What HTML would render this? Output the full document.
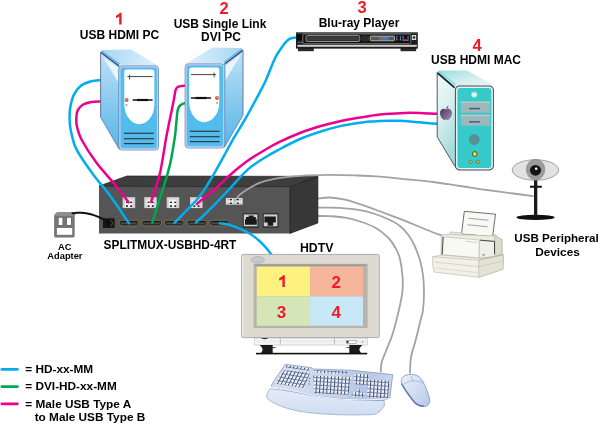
<!DOCTYPE html>
<html><head><meta charset="utf-8">
<style>
html,body{margin:0;padding:0;background:#fff;width:600px;height:424px;overflow:hidden}
svg{display:block;will-change:transform}
text{font-family:"Liberation Sans",sans-serif;font-weight:bold}
.lbl{font-size:12px;fill:#000}
.num{font-size:16.5px;fill:#ec1c2a}
.sm{font-size:9.3px;fill:#000}
.leg{font-size:11.8px;fill:#000}
</style></head><body>
<svg width="600" height="424" viewBox="0 0 600 424">
<defs>
<linearGradient id="pcSide" x1="0" y1="0" x2="0" y2="1">
<stop offset="0" stop-color="#bfe3f7"/><stop offset="0.45" stop-color="#90cdef"/><stop offset="1" stop-color="#55b6e8"/>
</linearGradient>
<linearGradient id="pcTop" x1="0" y1="0" x2="1" y2="0">
<stop offset="0" stop-color="#a4d6f2"/><stop offset="1" stop-color="#e2f2fb"/>
</linearGradient>
<linearGradient id="macSide" x1="0" y1="0" x2="0.3" y2="1">
<stop offset="0" stop-color="#f4fbfb"/><stop offset="0.45" stop-color="#dcf0f0"/><stop offset="1" stop-color="#a6dada"/>
</linearGradient>
<linearGradient id="macTop" x1="0" y1="0" x2="1" y2="1">
<stop offset="0" stop-color="#9adede"/><stop offset="0.6" stop-color="#d8eeee"/><stop offset="1" stop-color="#eef6f6"/>
</linearGradient>
<linearGradient id="appleG" x1="0" y1="0" x2="1" y2="1">
<stop offset="0" stop-color="#3e2a52"/><stop offset="1" stop-color="#a888b0"/>
</linearGradient>
<linearGradient id="kbd" x1="0" y1="0" x2="1" y2="0">
<stop offset="0" stop-color="#d6e0f2"/><stop offset="0.55" stop-color="#c6d3ec"/><stop offset="0.75" stop-color="#b4c4e2"/><stop offset="1" stop-color="#c8d5ee"/>
</linearGradient>
<linearGradient id="wrist" x1="0" y1="0" x2="0" y2="1">
<stop offset="0" stop-color="#e6edf9"/><stop offset="1" stop-color="#cfdcf2"/>
</linearGradient>
<pattern id="keys" patternUnits="userSpaceOnUse" width="3.6" height="3.7" patternTransform="rotate(4)">
<rect width="3.6" height="3.7" fill="#a4b2d2"/>
<rect x="0" y="0.3" width="1.1" height="3.1" fill="#2e3a60"/>
<rect x="0.5" y="2.6" width="3.1" height="1.1" fill="#7080a8"/>
<rect x="1.1" y="0" width="2.5" height="2.6" fill="#f4f7fd"/>
</pattern>
<pattern id="keysL" patternUnits="userSpaceOnUse" width="3.6" height="3.7" patternTransform="rotate(9) skewX(-18)">
<rect width="3.6" height="3.7" fill="#a4b2d2"/>
<rect x="0" y="0.3" width="1.1" height="3.1" fill="#2e3a60"/>
<rect x="0.5" y="2.6" width="3.1" height="1.1" fill="#7080a8"/>
<rect x="1.1" y="0" width="2.5" height="2.6" fill="#f4f7fd"/>
</pattern>
<linearGradient id="mouseG" x1="0" y1="0" x2="1" y2="1">
<stop offset="0" stop-color="#eaf1fb"/><stop offset="1" stop-color="#b6c9ea"/>
</linearGradient>
<g id="pc">
  <!-- side -->
  <polygon points="100.7,51.5 119.6,65.7 119.6,150 100.7,117.6" fill="url(#pcSide)"/>
  <polygon points="103,57 118,67.5 118,82" fill="#f4faff" opacity="0.85"/>
  <line x1="100.6" y1="52" x2="100.6" y2="117.2" stroke="#5a6a9a" stroke-width="0.9"/>
  <line x1="100.7" y1="117.4" x2="119" y2="149" stroke="#5a6a9a" stroke-width="0.7"/>
  <!-- top -->
  <polygon points="100.7,51.5 102.5,50 131,49.5 158.5,65.7 119.6,65.7" fill="url(#pcTop)"/>
  <line x1="101.5" y1="51" x2="119.6" y2="64.2" stroke="#58b2e6" stroke-width="1.2"/>
  <line x1="101" y1="52.5" x2="119.3" y2="66.3" stroke="#3a3a72" stroke-width="1.3"/>
  <line x1="119" y1="65.2" x2="158" y2="65.2" stroke="#e4e8fa" stroke-width="1"/>
  <!-- front -->
  <rect x="118.9" y="65.9" width="39.6" height="84.1" rx="3.5" fill="#52bdec" stroke="#5a6aa0" stroke-width="0.7"/>
  <rect x="119.9" y="66.9" width="37.6" height="82.1" rx="2.8" fill="none" stroke="#c4cdf0" stroke-width="1.3"/>
  <path d="M124.3,71.8 Q124.3,69.6 126.5,69.6 H152.2 Q154.4,69.6 154.4,71.8 V104 C154.4,116 147,124.2 139.35,124.2 C131.7,124.2 124.3,116 124.3,104 Z" fill="#fff"/>
  <line x1="127.4" y1="76.6" x2="152.6" y2="76.6" stroke="#444" stroke-width="1"/>
  <line x1="129.5" y1="74.5" x2="129.5" y2="79.5" stroke="#444" stroke-width="0.9"/>
  <line x1="132.6" y1="100" x2="152.6" y2="100" stroke="#222" stroke-width="1.6"/>
  <line x1="137" y1="100" x2="148" y2="100" stroke="#111" stroke-width="2.2"/>
  <circle cx="126.6" cy="100" r="2" fill="#d65a50"/>
  <circle cx="126.2" cy="99.4" r="0.7" fill="#f0b0a8"/>
  <circle cx="126.5" cy="105" r="0.9" fill="#6b6"/>
  <g stroke="#333a48" stroke-width="1.2">
    <line x1="124" y1="133.3" x2="153.8" y2="133.3"/>
    <line x1="124" y1="138.7" x2="153.8" y2="138.7"/>
    <line x1="124" y1="143.6" x2="153.8" y2="143.6"/>
  </g>
</g>
</defs>

<!-- ===== GRAY CABLES ===== -->
<g fill="none" stroke-linecap="round">
<g stroke="#a3a3a3" stroke-width="1.8">
    <path d="M317.0,198.8 C319.2,198.6 325.3,197.3 330.0,197.5 C334.7,197.7 340.0,198.6 345.0,199.7 C350.0,200.8 355.0,202.6 360.0,204.2 C365.0,205.8 370.0,207.7 375.0,209.5 C380.0,211.3 385.0,213.3 390.0,215.2 C395.0,217.1 400.0,218.8 405.0,220.8 C410.0,222.8 415.5,225.1 420.0,227.0 C424.5,228.9 428.3,230.6 432.0,232.0 C435.7,233.4 440.3,234.9 442.0,235.5"/>
    <path d="M317.0,207.6 C319.2,207.6 325.3,207.6 330.0,207.7 C334.7,207.8 340.0,207.9 345.0,208.3 C350.0,208.7 355.0,209.2 360.0,210.2 C365.0,211.1 370.0,212.4 375.0,214.0 C380.0,215.6 385.8,218.0 390.0,220.0 C394.2,222.0 397.0,223.6 400.0,226.0 C403.0,228.4 405.7,231.4 408.0,234.5 C410.3,237.6 412.1,240.4 414.0,244.5 C415.9,248.6 418.1,253.9 419.6,259.0 C421.1,264.1 422.3,269.4 423.0,275.0 C423.7,280.6 424.0,286.5 424.0,292.3 C424.0,298.1 423.5,305.6 423.0,310.0 C422.5,314.4 422.2,313.8 420.9,319.0 C419.6,324.2 416.9,335.2 415.3,341.5 C413.7,347.8 412.0,351.4 411.1,356.6 C410.2,361.8 410.2,370.1 410.0,372.8"/>
    <path d="M317.0,216.0 C319.2,216.0 325.3,215.9 330.0,216.2 C334.7,216.5 340.0,216.8 345.0,217.7 C350.0,218.6 355.0,219.9 360.0,221.5 C365.0,223.1 370.2,224.8 375.0,227.5 C379.8,230.2 385.0,234.4 388.5,238.0 C392.0,241.6 394.1,245.5 396.0,249.0 C397.9,252.5 398.9,254.3 400.0,259.0 C401.1,263.7 402.2,271.6 402.6,277.2 C403.0,282.8 402.9,286.8 402.3,292.3 C401.7,297.8 400.5,303.1 398.9,310.0 C397.3,316.9 394.8,327.2 392.6,334.0 C390.5,340.8 387.8,346.3 386.0,351.0 C384.2,355.7 382.6,358.9 381.7,362.3 C380.8,365.8 380.9,370.1 380.8,371.7"/>
  </g>
</g>
<!-- ===== KVM box ===== -->
<g>
  <polygon points="99,186 127,176 317.9,176.4 290,187" fill="#3e3e3e" stroke="#1e1e1e" stroke-width="0.7"/>
  <polygon points="290,187 317.9,176.4 317.9,223 290,233.4" fill="#373737" stroke="#1e1e1e" stroke-width="0.7"/>
  <rect x="99" y="186.5" width="191" height="47" fill="#555"/>
  <line x1="99" y1="186.6" x2="290" y2="186.6" stroke="#2a2a2a" stroke-width="0.8"/>
  <line x1="290" y1="187" x2="290" y2="233.4" stroke="#2a2a2a" stroke-width="0.8"/>
  <!-- usb ports -->
  <g id="usbp">
    <rect x="122.6" y="197.1" width="12.6" height="11" fill="#c6c6c6"/>
    <rect x="123.3" y="197.8" width="11.2" height="9.6" fill="#d6d6d6"/>
    <path d="M125,207.6 V201.3 Q125,199.6 126.8,199.6 H130.4 Q132.2,199.6 132.2,201.3 V207.6 Z" fill="#f2f2f2"/>
    <rect x="126" y="201.7" width="1.9" height="1.3" fill="#1a1a1a"/>
    <rect x="130.2" y="201.7" width="1.9" height="1.3" fill="#1a1a1a"/>
    <rect x="126" y="205.3" width="1.9" height="1.6" fill="#1a1a1a"/>
    <rect x="130.2" y="205.3" width="1.9" height="1.6" fill="#1a1a1a"/>
  </g>
  <use href="#usbp" x="21.6"/>
  <use href="#usbp" x="44.1"/>
  <use href="#usbp" x="67.4"/>
  <!-- hdmi ports -->
  <g id="hdmip">
    <path d="M120.2,220.3 H137.7 Q138.7,220.3 138.7,221.3 V223.8 L136.4,226 H121.5 L119.2,223.8 V221.3 Q119.2,220.3 120.2,220.3 Z" fill="#2e2e2e" stroke="#8a7a52" stroke-width="0.8"/>
    <rect x="121.3" y="222.4" width="15.3" height="1.3" fill="#5a5a5a"/>
    <rect x="121.3" y="221.2" width="15.3" height="1.1" fill="#161616"/>
  </g>
  <use href="#hdmip" x="22.8"/>
  <use href="#hdmip" x="45.2"/>
  <use href="#hdmip" x="68"/>
  <use href="#hdmip" x="90.5"/>
  <!-- power jack -->
  <rect x="103" y="218.3" width="11.6" height="9.7" fill="#161616"/>
  <circle cx="109.3" cy="223.1" r="3.4" fill="#0e0e0e"/>
  <path d="M110.2,220.2 A3,3 0 0 1 110.2,226" fill="none" stroke="#666" stroke-width="0.8"/>
  <!-- HH usb -->
  <rect x="225.9" y="198.1" width="16.7" height="6.5" fill="#e6e6e6"/>
  <rect x="229.9" y="199" width="2" height="1.3" fill="#111"/>
  <rect x="236.8" y="199" width="2" height="1.3" fill="#111"/>
  <rect x="229.9" y="202.6" width="2" height="1.3" fill="#111"/>
  <rect x="236.8" y="202.6" width="2" height="1.3" fill="#111"/>
  <rect x="227.5" y="199" width="1.5" height="1.3" fill="#aaa"/>
  <rect x="227.5" y="202.6" width="1.5" height="1.3" fill="#aaa"/>
  <rect x="233.2" y="199" width="2.4" height="1.3" fill="#aaa"/>
  <rect x="233.2" y="202.6" width="2.4" height="1.3" fill="#aaa"/>
  <rect x="239.7" y="199" width="1.5" height="1.3" fill="#aaa"/>
  <rect x="239.7" y="202.6" width="1.5" height="1.3" fill="#aaa"/>
  <!-- rj45 -->
  <rect x="242.8" y="213.3" width="15.7" height="14.4" fill="#2a2a2a"/>
  <rect x="243.8" y="214.4" width="13.6" height="11.9" fill="#d0d0d0"/>
  <path d="M245,224.7 V219.3 H246 V217 H248.7 V215.5 H253.6 V217 H255.8 V219.3 H256.8 V224.7 Z" fill="#1a1a1a"/>
  <rect x="262.8" y="213.3" width="15.7" height="14.4" fill="#2a2a2a"/>
  <rect x="263.8" y="214.4" width="13.6" height="11.9" fill="#d0d0d0"/>
  <path d="M264.4,216.5 H275.8 V222.5 H273.1 V225.8 H267.7 V222.5 H264.4 Z" fill="#1a1a1a"/>
</g>
<!-- ===== COLORED CABLES ===== -->
<g fill="none" stroke-linecap="round">
  <g stroke-width="2.5">
    <path d="M101.0,80.2 C99.4,80.4 94.5,80.4 91.2,81.3 C87.9,82.2 84.0,83.5 81.2,85.6 C78.4,87.7 76.0,90.8 74.2,94.1 C72.4,97.4 71.4,101.6 70.6,105.4 C69.8,109.2 69.6,112.7 69.6,116.7 C69.6,120.7 69.4,124.0 70.6,129.5 C71.8,134.9 72.8,142.0 76.5,149.4 C80.2,156.8 87.4,166.5 93.0,174.2 C98.6,181.9 104.0,187.4 110.0,195.6 C116.0,203.8 125.8,218.7 129.0,223.3" stroke="#00aeef"/>
    <path d="M101.0,101.4 C99.4,101.5 94.2,101.4 91.2,101.9 C88.2,102.5 85.0,103.3 82.7,104.7 C80.5,106.1 78.8,108.2 77.7,110.4 C76.6,112.7 76.4,115.5 76.3,118.2 C76.2,120.9 76.1,123.2 77.0,126.7 C77.9,130.2 78.3,133.5 81.5,139.5 C84.7,145.5 90.8,155.2 96.3,162.6 C101.8,170.0 109.1,177.4 114.5,184.0 C119.9,190.6 126.2,199.2 128.5,202.2" stroke="#ec008c"/>
    <path d="M185.0,85.7 C183.9,85.8 180.2,86.0 178.7,86.6 C177.2,87.2 176.6,87.4 175.8,89.4 C175.0,91.5 174.9,94.2 174.0,98.9 C173.1,103.6 171.5,111.4 170.2,117.7 C168.9,124.0 167.7,129.7 166.4,136.6 C165.1,143.5 163.8,152.6 162.6,159.2 C161.4,165.8 161.1,169.3 159.2,176.4 C157.3,183.5 152.4,197.7 151.1,201.9" stroke="#ec008c"/>
    <path d="M185.0,103.0 C184.2,103.4 181.2,104.3 180.0,105.5 C178.8,106.7 178.2,108.2 177.7,110.2 C177.2,112.2 177.3,113.3 176.8,117.7 C176.3,122.1 175.9,129.7 174.9,136.6 C173.9,143.5 172.4,152.6 171.1,159.2 C169.8,165.8 169.9,165.8 166.8,176.4 C163.7,187.0 154.7,214.9 152.3,222.6" stroke="#00a651"/>
    <path d="M297.5,37.4 C296.6,37.5 293.7,37.7 292.3,38.0 C290.9,38.3 290.0,38.7 288.9,39.4 C287.8,40.1 286.6,41.1 285.5,42.3 C284.4,43.5 283.8,44.6 282.3,46.7 C280.8,48.9 278.2,52.3 276.6,55.2 C275.0,58.1 274.3,59.9 272.4,64.2 C270.5,68.5 268.2,75.2 265.4,81.2 C262.6,87.2 259.0,93.7 255.7,100.0 C252.3,106.3 248.9,112.6 245.3,118.9 C241.7,125.2 237.6,131.4 234.0,137.7 C230.4,144.0 227.5,149.5 223.6,156.6 C219.7,163.7 214.6,173.1 210.4,180.0 C206.2,186.9 204.5,190.7 198.5,197.8 C192.5,204.9 178.5,218.6 174.5,222.8" stroke="#00aeef"/>
    <path d="M437.5,113.8 C436.2,113.8 432.9,113.7 430.0,113.5 C427.1,113.3 423.3,113.0 420.0,112.9 C416.7,112.8 413.3,112.8 410.0,112.8 C406.7,112.8 405.0,112.9 400.0,113.2 C395.0,113.5 385.0,114.0 380.0,114.5 C375.0,115.0 374.2,115.3 370.0,115.9 C365.8,116.5 360.0,117.4 355.0,118.3 C350.0,119.2 345.8,119.9 340.0,121.2 C334.2,122.5 326.7,124.3 320.0,126.3 C313.3,128.3 306.7,130.4 300.0,133.0 C293.3,135.6 286.0,138.8 280.0,141.7 C274.0,144.6 269.3,147.3 264.0,150.5 C258.7,153.7 253.6,156.6 248.0,160.6 C242.4,164.6 235.7,170.1 230.4,174.7 C225.1,179.3 220.3,184.3 216.2,188.0 C212.1,191.7 208.8,194.2 205.6,196.8 C202.4,199.5 198.3,202.7 196.8,203.9" stroke="#ec008c"/>
    <path d="M437.5,123.8 C436.2,123.7 432.9,123.5 430.0,123.3 C427.1,123.0 423.3,122.6 420.0,122.3 C416.7,122.0 413.3,121.8 410.0,121.5 C406.7,121.2 403.3,120.9 400.0,120.8 C396.7,120.7 393.3,120.7 390.0,120.7 C386.7,120.7 383.3,120.8 380.0,121.0 C376.7,121.2 374.2,121.2 370.0,121.6 C365.8,122.0 360.0,122.8 355.0,123.5 C350.0,124.2 345.8,124.7 340.0,126.1 C334.2,127.5 326.7,129.5 320.0,131.7 C313.3,133.8 306.7,136.1 300.0,139.0 C293.3,141.9 285.8,145.9 280.0,149.0 C274.2,152.1 270.3,154.1 265.0,157.5 C259.7,160.9 253.8,164.3 248.0,169.4 C242.2,174.5 235.7,182.4 230.4,188.0 C225.1,193.6 220.3,198.7 216.2,203.0 C212.1,207.3 209.0,210.3 205.6,213.6 C202.2,216.8 197.5,221.0 195.9,222.5" stroke="#00aeef"/>
  </g>
</g>


<!-- AC adapter -->
<g>
  <path d="M57.3,212.1 H74.7 V236 Q74.7,237.4 73.3,237.4 H55.5 Q54.1,237.4 54.1,236 V215.3 Z" fill="#777"/>
  <path d="M57.3,212.1 H74.7 V215.9 H54.1 V215.3 Z" fill="#8e8e8e"/>
  <rect x="57.6" y="216.8" width="5.9" height="9.3" fill="#6c6c6c"/>
  <rect x="65.9" y="216.8" width="6.1" height="9.3" fill="#6c6c6c"/>
  <rect x="58.7" y="217.8" width="3.7" height="7.2" fill="#fff"/>
  <rect x="67" y="217.8" width="4" height="7.2" fill="#fff"/>
  <rect x="56.9" y="228" width="15.3" height="6.8" fill="#fff"/>
</g>
<!-- HDMI out cable & AC cable on top of box -->
<g fill="none" stroke-linecap="round">
  <path d="M219.9,223.3 C221.4,223.5 225.7,223.8 229.0,224.7 C232.3,225.6 236.1,227.1 239.7,228.7 C243.2,230.2 247.2,232.1 250.3,234.0 C253.4,235.9 255.9,237.9 258.3,240.0 C260.8,242.1 262.8,244.2 265.0,246.7 C267.2,249.1 270.6,253.4 271.7,254.7" stroke="#00aeef" stroke-width="2.5"/>
  <path d="M72.6,213.3 C73.2,213.2 74.5,213.0 76.0,212.9 C77.5,212.8 79.0,212.6 81.5,212.8 C84.0,213.0 87.9,213.6 90.8,214.3 C93.7,215.0 96.7,216.3 99.0,217.2 C101.3,218.2 103.2,219.2 104.8,220.2 C106.4,221.2 108.1,222.6 108.8,223.1" stroke="#111" stroke-width="2"/>
  <path d="M234.6,201.0 C235.1,200.4 236.5,198.4 237.5,197.2 C238.5,196.0 239.4,195.0 240.6,194.0 C241.8,193.0 241.6,193.1 244.5,191.3 C247.4,189.5 253.2,185.5 258.3,183.4 C263.4,181.3 268.2,179.9 275.3,178.6 C282.4,177.3 291.8,176.4 300.8,175.8 C309.8,175.2 319.8,175.0 329.2,174.9 C338.6,174.8 349.0,175.2 357.5,175.5 C366.0,175.8 371.8,176.1 380.0,176.7 C388.2,177.3 397.8,178.4 406.7,179.3 C415.6,180.2 424.4,180.9 433.3,182.0 C442.2,183.1 451.1,184.7 460.0,186.0 C468.9,187.3 477.8,188.8 486.7,190.0 C495.6,191.2 505.6,192.5 513.3,193.5 C521.0,194.5 529.7,195.8 533.0,196.2" stroke="#a3a3a3" stroke-width="1.8"/>
</g>

<!-- ===== PCs ===== -->
<use href="#pc"/>
<use href="#pc" transform="translate(343.6,-2) scale(-1,1)"/>

<!-- ===== Blu-ray ===== -->
<g>
  <rect x="298" y="48" width="15.8" height="3.2" fill="#2a2a2a"/>
  <rect x="400.5" y="48" width="15.7" height="3.2" fill="#2a2a2a"/>
  <rect x="296" y="32.3" width="121.8" height="16.3" fill="#1c1c1c"/>
  <line x1="296" y1="33" x2="417.8" y2="33" stroke="#777" stroke-width="0.7"/>
  <rect x="297.2" y="34.5" width="4.8" height="5.5" fill="#0c0c0c"/>
  <rect x="302.8" y="34" width="108" height="9.7" rx="1.5" fill="#111" stroke="#8c8c8c" stroke-width="0.8"/>
  <rect x="306" y="35.6" width="53.8" height="5.9" rx="1.5" fill="#2a2a2a" stroke="#b0b0b0" stroke-width="0.8"/>
  <rect x="307.5" y="37" width="51" height="3.2" fill="#3c3c3c"/>
  <line x1="297.5" y1="42.3" x2="303" y2="42.3" stroke="#8c8c8c" stroke-width="0.7"/>
  <rect x="361.5" y="35.5" width="7.5" height="6" fill="#262626"/>
  <path d="M362.5,36 V41 M364,36 V41 M365.5,36 V41 M367,36 V41 M368.5,36 V41" stroke="#3a3a3a" stroke-width="0.6"/>
  <rect x="370.2" y="36.1" width="24.3" height="4.7" rx="1" fill="#595959" stroke="#cfcfcf" stroke-width="0.8"/>
  <g fill="none" stroke="#5b8fd8" stroke-width="0.55">
    <rect x="379.6" y="37.4" width="1.8" height="2.1"/><rect x="382" y="37.4" width="1.8" height="2.1"/><rect x="384.4" y="37.4" width="1.8" height="2.1"/><rect x="386.8" y="37.4" width="1.8" height="2.1"/>
  </g>
  <rect x="396.2" y="35.8" width="1.2" height="3" fill="#3a7ad0"/>
  <rect x="396.2" y="39" width="1.2" height="1.4" fill="#e08a20"/>
  <rect x="399.8" y="35.8" width="1.2" height="3" fill="#3a7ad0"/>
  <rect x="399.8" y="39" width="1.2" height="1.4" fill="#e08a20"/>
  <path d="M403.2,35.8 V40.5 H408.1 V35.8" fill="none" stroke="#3a7ad0" stroke-width="1.2"/>
  <rect x="404.2" y="39.2" width="3" height="1.6" fill="#e03030"/>
  <rect x="411.9" y="35" width="4.3" height="5" fill="#ddd"/>
  <circle cx="414" cy="37.5" r="1.3" fill="#222"/>
  <rect x="297.4" y="44.8" width="119.4" height="2" fill="#d0d0d0"/>
</g>

<!-- ===== Mac ===== -->
<g>
  <polygon points="437.2,71.4 455,86.7 455,168 454.7,166 437.2,136.9" fill="url(#macSide)"/>
  <path d="M437.2,72 V136.9 L454.7,166" fill="none" stroke="#3a4a50" stroke-width="0.9"/>
  <polygon points="437.4,71.4 439.5,70.4 466.5,70.6 493.3,84.4 455,86.7" fill="url(#macTop)"/>
  <line x1="438.6" y1="71" x2="455.5" y2="84.8" stroke="#6fe0e6" stroke-width="1.3"/>
  <line x1="437.6" y1="73" x2="454.6" y2="87.6" stroke="#1b2326" stroke-width="1.8"/>
  <rect x="454.9" y="85.4" width="39" height="85" rx="4.5" fill="#3a4a52"/>
  <rect x="455.9" y="86.4" width="37" height="83" rx="3.8" fill="#e2f4f4"/>
  <rect x="457.4" y="87.9" width="34" height="80" rx="3" fill="#38c9cb"/>
  <path transform="translate(474.2,94.5) scale(0.8) translate(-474.2,-94.5)" d="M474.2,92.2 c-1.7,-1.2 -3.6,0 -3.6,2.1 c0,2.2 1.7,4 2.6,4 c0.5,0 0.7,-0.3 1,-0.3 c0.3,0 0.6,0.3 1,0.3 c0.9,0 2.6,-1.8 2.6,-4 c0,-2.1 -1.9,-3.3 -3.6,-2.1z M474.3,91.9 c0,-1 0.6,-1.7 1.3,-1.8 c0,1 -0.6,1.6 -1.3,1.8z" fill="#d6f6f6"/>
  <rect x="460.8" y="101.6" width="29.2" height="11.2" fill="#9cb8b8"/>
  <rect x="460.8" y="101.6" width="29.2" height="1.2" fill="#b8d0d0"/>
  <rect x="460.8" y="114.8" width="29.2" height="11" fill="#9cb8b8"/>
  <rect x="460.8" y="114.8" width="29.2" height="1.2" fill="#b8d0d0"/>
  <line x1="469.1" y1="108.6" x2="479.9" y2="108.6" stroke="#4a5590" stroke-width="1.5"/>
  <line x1="469.1" y1="121.8" x2="479.9" y2="121.8" stroke="#4a5590" stroke-width="1.5"/>
  <circle cx="474.2" cy="139.5" r="5" fill="#5a9090" stroke="#4a8cc0" stroke-width="0.8"/>
  <circle cx="474.8" cy="154" r="2.4" fill="#f4e21a" stroke="#222" stroke-width="0.7"/>
  <circle cx="470.7" cy="161.8" r="1.5" fill="#e8d41a" stroke="#333" stroke-width="0.5"/>
  <circle cx="477.7" cy="161.8" r="1.5" fill="#e8d41a" stroke="#333" stroke-width="0.5"/>
  <path d="M446,109.6 c-2.8,-2 -6,0 -6,3.5 c0,3.6 2.8,6.8 4.2,6.8 c0.8,0 1.3,-0.5 1.8,-0.5 c0.5,0 1,0.5 1.8,0.5 c1.4,0 4.2,-3.2 4.2,-6.8 c0,-3.5 -3.2,-5.5 -6,-3.5z M446.2,109 c0,-1.6 1,-2.8 2.2,-3 c0,1.6 -1,2.7 -2.2,3z" fill="url(#appleG)"/>
</g>

<!-- ===== HDTV ===== -->
<g>
  <rect x="254.3" y="338" width="113" height="7" fill="#f6f6f6" stroke="#c4c4c4" stroke-width="0.7"/>
  <rect x="256" y="340" width="110" height="2.6" fill="#ececec"/>
  <line x1="280.3" y1="338.3" x2="280.3" y2="344.7" stroke="#b0b0b0" stroke-width="0.8"/>
  <line x1="334.5" y1="338.3" x2="334.5" y2="344.7" stroke="#b0b0b0" stroke-width="0.8"/>
  <rect x="346.2" y="340.5" width="10.5" height="2.8" fill="#fff" stroke="#777" stroke-width="0.5"/>
  <rect x="346.6" y="340.9" width="2" height="2" fill="#333"/>
  <circle cx="362.5" cy="342" r="0.8" fill="#3c3"/>
  <path d="M261,338 H268.3 C267.5,339.5 262,339.5 261,338 Z" fill="#222"/>
  <path d="M259.7,345 H272.7 V353 H261 C262.5,351 263,349.5 262.3,348.3 C261.5,347 260.5,346 259.7,345 Z" fill="#1a1a1a"/>
  <path d="M272.7,347 L277.3,347.6 L272.7,348.2 Z" fill="#333"/>
  <path d="M349.3,345 H362.3 C361.5,346 360.5,347 359.7,348.3 C359,349.5 359.5,351 361,353 H349.3 Z" fill="#1a1a1a"/>
  <path d="M349.3,347 L344.7,347.6 L349.3,348.2 Z" fill="#333"/>
  <rect x="256" y="352.8" width="111.3" height="1.6" fill="#111"/>
  <rect x="241.6" y="254.4" width="137.7" height="83.2" rx="1.5" fill="#dedad2" stroke="#a6a6a6" stroke-width="0.9"/>
  <line x1="242.8" y1="256" x2="242.8" y2="336" stroke="#f4f2ee" stroke-width="1"/>
  <ellipse cx="257.8" cy="259.8" rx="6.6" ry="3.2" fill="#c6c9ce" stroke="#9a9a9a" stroke-width="0.5"/>
  <rect x="253.6" y="263.8" width="114" height="64.2" fill="#b7b4ac"/>
  <rect x="254.4" y="264.6" width="112.4" height="1" fill="#8f8c86"/>
  <rect x="256.7" y="266.7" width="53.4" height="29.8" fill="#fdf280"/>
  <rect x="310.1" y="266.7" width="52.9" height="29.8" fill="#f6b69c"/>
  <rect x="256.7" y="296.5" width="53.4" height="29.3" fill="#d4e6b8"/>
  <rect x="310.1" y="296.5" width="52.9" height="29.3" fill="#c8e8f8"/>
  <g class="num" text-anchor="middle" style="font-size:17px">
    <text x="336.2" y="287.5" class="num" style="font-size:17px">2</text>
    <text x="281.6" y="317.5" class="num" style="font-size:17px">3</text>
    <text x="336.2" y="317.5" class="num" style="font-size:17px">4</text>
  </g>
</g>

<!-- ===== Webcam ===== -->
<g>
  <ellipse cx="535.5" cy="217.4" rx="19" ry="2.6" fill="#111"/>
  <rect x="534" y="180" width="3.3" height="36" fill="#1a1a1a"/>
  <rect x="530" y="185.7" width="11.8" height="2.1" fill="#1a1a1a"/>
  <ellipse cx="535.4" cy="170" rx="23.2" ry="10.3" fill="#e2e2e2" stroke="#555" stroke-width="0.5"/>
  <ellipse cx="535.6" cy="169.6" rx="9.3" ry="10.3" fill="#9c9c9c" stroke="#7a7a7a" stroke-width="0.5"/>
  <ellipse cx="535.5" cy="170.3" rx="5.6" ry="5.4" fill="#141414"/>
  <circle cx="536.2" cy="168.8" r="1.3" fill="#fff"/>
</g>

<!-- ===== Printer ===== -->
<g stroke="#b4b2a2" stroke-width="0.6" stroke-linejoin="round">
  <polygon points="464.3,211.3 495.5,214.2 492.6,236.8 461.5,234" fill="#f8f8f6" stroke="#333" stroke-width="0.7"/>
  <line x1="468.5" y1="218.3" x2="488.5" y2="220.2" stroke="#666" stroke-width="0.6"/>
  <line x1="467.6" y1="224.8" x2="487.6" y2="226.7" stroke="#666" stroke-width="0.6"/>
  <path d="M450,232 L462,232.6 L462,234.2 L492.5,236.6 L494.7,234 L496.5,235.5 L496.5,238 L450,236 Z" fill="#eceadc"/>
  <path d="M441.3,234.7 L450,234.3 L494.7,236 L502,239.3 L502,254 L494.7,256.7 L441,256 Z" fill="#eeece0"/>
  <path d="M494.7,236.3 L502,239.3 L502,254 L494.7,256.7 Z" fill="#dddbcb"/>
  <path d="M442.6,236.7 L479.3,240 L479.3,258 L441.6,254.7 Z" fill="#f9f9f4"/>
  <path d="M443.2,237 L442.2,254.5" stroke="#444" stroke-width="1"/>
  <path d="M479.3,240 L494.7,241.3 L494.7,256.7 L479.3,258 Z" fill="#f1f0e7"/>
  <path d="M480,240.2 L494.5,241.4 L494.5,254" fill="none" stroke="#3a3a3a" stroke-width="0.9"/>
  <path d="M466,241.4 L477,242.4" stroke="#d2d0c0" stroke-width="1"/>
  <rect x="482.3" y="254.2" width="2.6" height="1.3" fill="#7f93b0" stroke="none"/>
  <path d="M432.7,256.7 L441.6,255 L479.3,258.2 L494.7,256.8 L503.3,254.7 L503.3,263 L502.7,269.3 L478.7,277.3 L434,272 L432.7,265 Z" fill="#f2f1e7"/>
  <path d="M478.7,260 L503.3,254.7 L503,269.3 L478.7,277.3 Z" fill="#e4e2d4"/>
  <path d="M432.7,256.7 L478.7,260 L503.3,254.7" fill="none"/>
  <path d="M434.7,262 L478.7,266.7 L502,261.3" fill="none" stroke="#c2c0ae"/>
  <path d="M436,268 L478.7,272.7" fill="none" stroke="#cfcdbc"/>
</g>

<!-- ===== Keyboard ===== -->
<g>
  <!-- wrist rest -->
  <path d="M270.2,388.8 C285,390 300,393 315,396 C335,399.5 360,400.5 384,400.5 L384.5,405 C382,410 379,413 374,414.5 C355,415.5 332,415 312,413 C298,411.5 285,408.5 276,404 C270,401 266.5,399 266.7,396 C267,393 268.5,390.5 270.2,388.8 Z" fill="url(#wrist)" stroke="#8da0c8" stroke-width="0.7"/>
  <!-- body -->
  <path d="M285.3,364.3 L311,367.6 L313,369 L350.7,370.2 L392.7,374.6 L389.9,398.2 L384,400.2 C362,400.5 336,399 315,395.5 C300,393 285,389.5 271.3,386.5 L272.5,383 Z" fill="url(#kbd)" stroke="#7b8fb8" stroke-width="0.7"/>
  <path d="M272,386.8 C290,390 305,393.5 318,396.2 C338,399.8 362,401 389.9,398.6" fill="none" stroke="#f4f7fd" stroke-width="1"/>
  <!-- key blocks -->
  <g fill="url(#keys)">
    <path d="M286.5,365.3 L309.8,368.6 L309.5,370.8 L285.8,367.6 Z" fill="url(#keysL)"/>
    <path d="M284.2,370.2 L309.8,372.8 L304.2,388 L274.6,383.6 Z" fill="url(#keysL)"/>
    <path d="M314.2,370.1 L347.2,371.6 L347.1,374.1 L314.1,372.6 Z"/>
    <path d="M313.3,375.6 L351.8,377.1 L348.3,394.7 L314.5,393.4 Z"/>
    <path d="M354.2,373.7 L369.3,374.6 L368.6,385.3 L353.8,384.3 Z"/>
    <path d="M356.5,389.5 L360.5,389.6 L360.4,392.6 L364.7,392.8 L364.6,397 L351.8,396.7 L351.9,392.5 L356.4,392.6 Z"/>
    <path d="M367.4,379.4 L389.2,380.6 L388.4,398.2 L366.9,397.6 Z"/>
  </g>
  <circle cx="309.6" cy="378.4" r="0.8" fill="#3cbf5a"/>
  <circle cx="309.3" cy="381.2" r="0.8" fill="#3cbf5a"/>
  <circle cx="309" cy="384" r="0.8" fill="#3cbf5a"/>
</g>

<!-- ===== Mouse ===== -->
<g>
  <path d="M403,377 C406,373.5 416,373.5 420,377.5 C424,382 428,392 429.5,398.5 C430.5,404 427,407 423,406.5 C419,406 415,404 412,400 C408,394 403,388 401.5,383 C400.8,380.5 401.5,378.5 403,377 Z" fill="url(#mouseG)" stroke="#7a8fbb" stroke-width="0.8"/>
  <path d="M401.9,383.8 C404,389 409,395 413,400.5 C416,404.5 420,406.3 424,406.2" fill="none" stroke="#6579b0" stroke-width="1.5"/>
  <path d="M404,384 C410,380 417,380 423,383" fill="none" stroke="#8ea3cc" stroke-width="0.6"/>
  <path d="M411,376 L413,381.5" fill="none" stroke="#8ea3cc" stroke-width="0.6"/>
</g>

<!-- ===== Labels ===== -->
<path id="one" d="M121.6,12.8 V24.6 H119.2 V16.4 C118.3,17.1 117.2,17.7 116,18 V15.7 C117.6,15.1 119,14 119.7,12.8 Z" fill="#ec1c2a"/>
<use href="#one" x="163.2" y="262.5"/>
<text class="lbl" x="119.5" y="39" text-anchor="middle">USB HDMI PC</text>
<text class="num" x="224" y="14" text-anchor="middle">2</text>
<text class="lbl" x="220" y="27.5" text-anchor="middle">USB Single Link</text>
<text class="lbl" x="221" y="40.5" text-anchor="middle">DVI PC</text>
<text class="num" x="362" y="12.8" text-anchor="middle">3</text>
<text class="lbl" x="359" y="27" text-anchor="middle">Blu-ray Player</text>
<text class="num" x="477" y="50.5" text-anchor="middle">4</text>
<text class="lbl" x="476" y="63.7" text-anchor="middle">USB HDMI MAC</text>

<text class="lbl" x="103.6" y="249.2" style="font-size:11.9px">SPLITMUX-USBHD-4RT</text>
<text class="sm" x="64.7" y="250" text-anchor="middle">AC</text>
<text class="sm" x="64.9" y="259" text-anchor="middle">Adapter</text>
<text class="lbl" x="316.7" y="252.3" text-anchor="middle" style="font-size:12.3px">HDTV</text>
<text class="lbl" x="556.5" y="241.9" text-anchor="middle" style="font-size:11.6px">USB Peripheral</text>
<text class="lbl" x="557.5" y="255.6" text-anchor="middle" style="font-size:11.8px">Devices</text>
<!-- legend -->
<g stroke-width="2.7" stroke-linecap="round">
<line x1="1.8" y1="369.4" x2="17.4" y2="369.4" stroke="#00aeef"/>
<line x1="1.8" y1="386.6" x2="17.4" y2="386.6" stroke="#00a651"/>
<line x1="1.8" y1="403.8" x2="17.4" y2="403.8" stroke="#ec008c"/>
</g>
<text class="leg" x="25.3" y="372.6">= HD-xx-MM</text>
<text class="leg" x="25.3" y="390.4">= DVI-HD-xx-MM</text>
<text class="leg" x="25.3" y="408.4">= Male USB Type A</text>
<text class="leg" x="34.7" y="421.3">to Male USB Type B</text>
</svg>
</body></html>
